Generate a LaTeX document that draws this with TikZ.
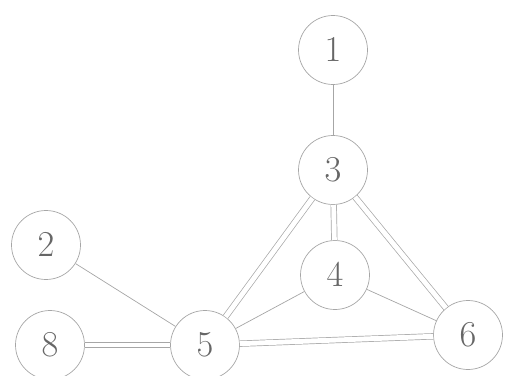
\documentclass[tikz,border=0pt]{standalone}
\usepackage{tikz}
\usetikzlibrary{positioning}

\begin{document}
\begin{tikzpicture}[
	x=0.02cm, y=-0.02cm,
	vertex/.style={circle, draw=gray!70, thin, minimum size=1.38cm, inner sep=1pt, font=\huge, text=gray!80!black},
	single/.style={draw=gray!70, thin},
	twin/.style={draw=gray!70, thin, double=white, double distance=2.8pt},
	]
	
	\useasboundingbox (0,0) rectangle (506,375);
	
	\node[vertex] (n1) at (333,50) {$1$};
	\node[vertex] (n3) at (333,170) {$3$};
	\node[vertex] (n4) at (335,275) {$4$};
	\node[vertex] (n2) at (46,245) {$2$};
	\node[vertex] (n8) at (50,345) {$8$};
	\node[vertex] (n5) at (205,345) {$5$};
	\node[vertex] (n6) at (468,335) {$6$};
	
	\draw[single] (n1) -- (n3);
	\draw[twin] (n3) -- (n4);
	\draw[twin] (n3) -- (n5);
	\draw[twin] (n3) -- (n6);
	\draw[single] (n2) -- (n5);
	\draw[single] (n4) -- (n5);
	\draw[single] (n4) -- (n6);
	\draw[twin] (n8) -- (n5);
	\draw[twin] (n5) -- (n6);
	
\end{tikzpicture}
\end{document}
